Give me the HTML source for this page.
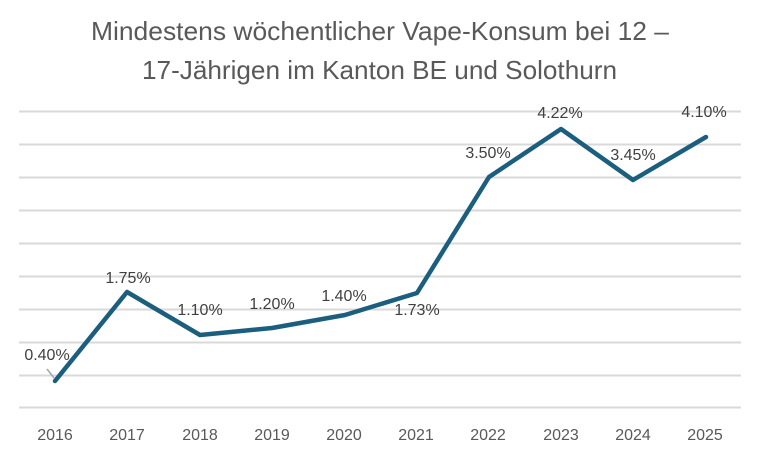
<!DOCTYPE html>
<html><head><style>
body{margin:0;background:#fff;}
svg{display:block;font-family:"Liberation Sans",sans-serif;}
</style></head><body>
<svg width="761" height="455" viewBox="0 0 761 455">
<rect width="761" height="455" fill="#fff"/>
<text x="91" y="40" font-size="26" fill="#595959" textLength="578" lengthAdjust="spacingAndGlyphs">Mindestens wöchentlicher Vape-Konsum bei 12 –</text>
<text x="142" y="79" font-size="26" fill="#595959" textLength="475" lengthAdjust="spacingAndGlyphs">17-Jährigen im Kanton BE und Solothurn</text>
<g stroke="#d9d9d9" stroke-width="2">
<line x1="19" x2="741" y1="111.5" y2="111.5"/>
<line x1="19" x2="741" y1="144.5" y2="144.5"/>
<line x1="19" x2="741" y1="177.5" y2="177.5"/>
<line x1="19" x2="741" y1="210.5" y2="210.5"/>
<line x1="19" x2="741" y1="243.5" y2="243.5"/>
<line x1="19" x2="741" y1="276.5" y2="276.5"/>
<line x1="19" x2="741" y1="309.5" y2="309.5"/>
<line x1="19" x2="741" y1="342.5" y2="342.5"/>
<line x1="19" x2="741" y1="375.5" y2="375.5"/>
<line x1="19" x2="741" y1="407.5" y2="407.5"/>
</g>
<line x1="47" y1="369" x2="54" y2="378" stroke="#a6a6a6" stroke-width="1.5"/>
<polyline fill="none" stroke="#1b5e7e" stroke-width="4.5" stroke-linejoin="round" stroke-linecap="round"
points="55,381 127,292 200,335 272,328 345,315 417,293 489,177 561,129 633,180 706,137"/>
<g font-size="16" fill="#404040" text-anchor="middle">
<text x="47" y="360">0.40%</text>
<text x="128" y="283">1.75%</text>
<text x="200" y="315">1.10%</text>
<text x="272" y="309">1.20%</text>
<text x="344" y="301">1.40%</text>
<text x="417" y="315">1.73%</text>
<text x="488" y="158">3.50%</text>
<text x="560" y="118">4.22%</text>
<text x="633" y="160">3.45%</text>
<text x="704" y="117">4.10%</text>
</g>
<g font-size="16" fill="#595959" text-anchor="middle">
<text x="55" y="440">2016</text>
<text x="127" y="440">2017</text>
<text x="200" y="440">2018</text>
<text x="272" y="440">2019</text>
<text x="344" y="440">2020</text>
<text x="416" y="440">2021</text>
<text x="488" y="440">2022</text>
<text x="561" y="440">2023</text>
<text x="633" y="440">2024</text>
<text x="705" y="440">2025</text>
</g>
</svg>
</body></html>
